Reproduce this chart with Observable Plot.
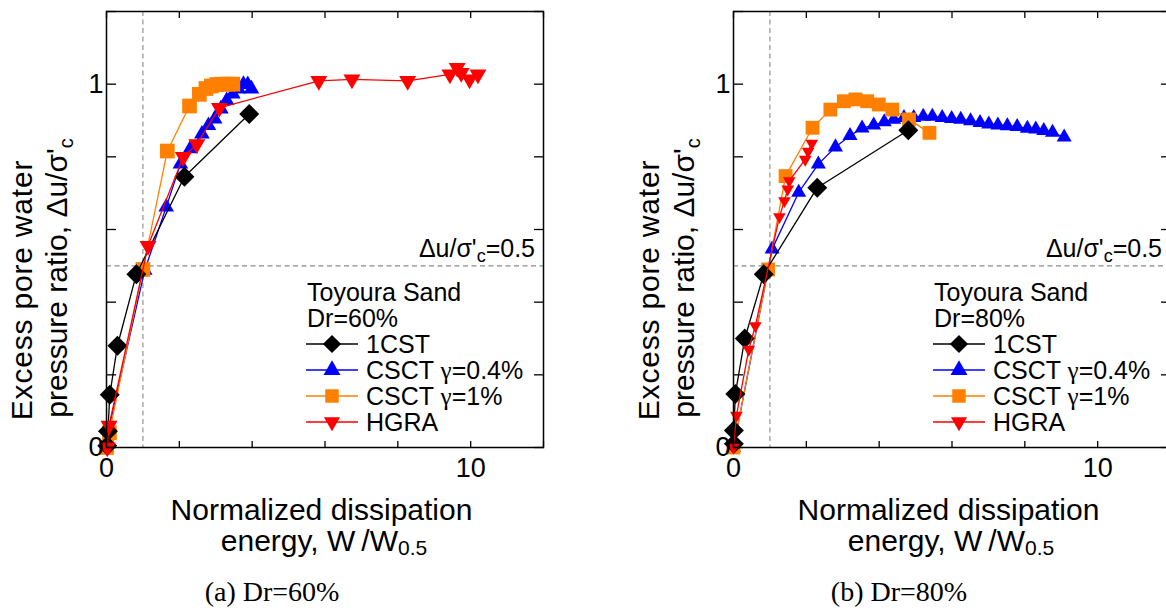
<!DOCTYPE html>
<html><head><meta charset="utf-8">
<script src="https://cdn.jsdelivr.net/npm/d3@7"></script>
<script src="https://cdn.jsdelivr.net/npm/@observablehq/plot@0.6"></script>
<style>
body{margin:0;background:#fff;}
#root{position:relative;width:1166px;height:610px;overflow:hidden;background:#fff;}
.panel{position:absolute;top:0;width:560px;height:490px;}
.panel svg{max-width:none !important;}
</style></head><body><div id="root"></div>
<script>
// ---------- data ----------
const xDomain = [0, 12];
const yDomain = [0, 1.2];
const xTicks = [0, 2, 4, 6, 8, 10, 12];
const xTickLabels = [0, 10];
const yTicks = [0, 0.2, 0.4, 0.6, 0.8, 1, 1.2];
const yTickLabels = [0, 1];
const refY = [0.5];
const refX = [1];
const seriesNames = ["1CST", "CSCT γ=0.4%", "CSCT γ=1%", "HGRA"];
const panelTitles = ["Toyoura Sand", "Toyoura Sand"];
const panelDr = ["Dr=60%", "Dr=80%"];
const captions = ["(a) Dr=60%", "(b) Dr=80%"];

// Dr = 60 %
const cst60X = [0.02, 0.04, 0.09, 0.30, 0.82, 2.14, 3.92];
const cst60Y = [0.005, 0.045, 0.145, 0.28, 0.477, 0.745, 0.918];
const low60X = [0, 0.06, 1.05, 1.64, 2.03, 2.30, 2.62, 2.80, 2.97, 3.14, 3.30, 3.47, 3.62, 3.76, 3.88, 3.98];
const low60Y = [0, 0.05, 0.488, 0.662, 0.78, 0.822, 0.863, 0.886, 0.904, 0.932, 0.955, 0.973, 0.987, 1.0, 0.999, 0.987];
const high60X = [0, 0.08, 1.0, 1.67, 2.28, 2.55, 2.73, 2.88, 3.03, 3.18, 3.33, 3.47];
const high60Y = [0, 0.04, 0.49, 0.816, 0.94, 0.972, 0.988, 0.995, 0.999, 1.0, 1.0, 1.0];
const hgra60X = [0.02, 0.07, 1.14, 2.11, 2.48, 3.10, 5.83, 6.74, 8.27, 9.43, 9.63, 9.74, 9.97, 10.2];
const hgra60Y = [0, 0.06, 0.555, 0.80, 0.835, 0.935, 1.009, 1.013, 1.009, 1.027, 1.045, 1.031, 1.013, 1.027];

// Dr = 80 %
const cst80X = [0.01, 0.01, 0.05, 0.31, 0.83, 2.30, 4.80];
const cst80Y = [0.01, 0.047, 0.147, 0.30, 0.477, 0.715, 0.873];
const low80X = [0, 1.06, 1.79, 2.33, 2.80, 3.20, 3.53, 3.85, 4.14, 4.40, 4.68, 4.95, 5.21, 5.46, 5.73, 5.99, 6.24, 6.51, 6.77, 7.01, 7.26, 7.52, 7.79, 8.07, 8.30, 8.52, 8.76, 9.08];
const low80Y = [0, 0.546, 0.702, 0.78, 0.827, 0.858, 0.879, 0.887, 0.896, 0.903, 0.908, 0.908, 0.911, 0.911, 0.908, 0.905, 0.903, 0.899, 0.894, 0.890, 0.887, 0.885, 0.883, 0.878, 0.876, 0.872, 0.867, 0.854];
const high80X = [0, 0.95, 1.43, 2.17, 2.66, 3.03, 3.35, 3.67, 3.99, 4.36, 4.82, 5.38];
const high80Y = [0, 0.49, 0.747, 0.88, 0.93, 0.953, 0.958, 0.953, 0.944, 0.93, 0.903, 0.866];
const hgra80X = [0, 0.08, 0.42, 0.60, 1.26, 1.40, 1.49, 1.53, 1.97, 2.05, 2.15];
const hgra80Y = [0, 0.088, 0.27, 0.335, 0.635, 0.679, 0.711, 0.734, 0.793, 0.815, 0.837];

// ---------- styles ----------
const SANS = "'Liberation Sans', Arial, Helvetica, sans-serif";
const SERIF = "'Liberation Serif', 'Times New Roman', serif";
const colors = ["#000000", "#0000ff", "#ff8000", "#ff0000"];
const symbols = ["diamond2", "triangle", "square", "triangle"];
const rotations = [0, 0, 0, 180];
const drawOrder = [1, 2, 0, 3];

function rows(xs, ys) { return xs.map((x, i) => ({x, y: ys[i]})); }

const panels = [
  {left: 0, series: [rows(cst60X, cst60Y), rows(low60X, low60Y), rows(high60X, high60Y), rows(hgra60X, hgra60Y)],
   r: [9, 5.8, 8.3, 6.3], title: panelTitles[0], dr: panelDr[0], caption: captions[0]},
  {left: 627, series: [rows(cst80X, cst80Y), rows(low80X, low80Y), rows(high80X, high80Y), rows(hgra80X, hgra80Y)],
   r: [9, 5.6, 7.8, 4.7], title: panelTitles[1], dr: panelDr[1], caption: captions[1]}
];

const root = document.getElementById("root");

function symPath(name, r) {
  const t = {diamond2: d3.symbolDiamond2, triangle: d3.symbolTriangle, square: d3.symbolSquare}[name];
  return d3.symbol(t, Math.PI * r * r)();
}

for (const p of panels) {
  const marks = [
    Plot.ruleY(refY, {stroke: "#8a8a8a", strokeWidth: 1.1, strokeDasharray: "5,3.5"}),
    Plot.ruleX(refX, {stroke: "#8a8a8a", strokeWidth: 1.1, strokeDasharray: "5,3.5"})
  ];
  for (const i of drawOrder) {
    marks.push(Plot.line(p.series[i], {x: "x", y: "y", stroke: colors[i], strokeWidth: 1.3}));
    marks.push(Plot.dot(p.series[i], {x: "x", y: "y", symbol: symbols[i], fill: colors[i], stroke: "none", r: p.r[i], rotate: rotations[i]}));
  }
  marks.push(
    Plot.axisX({ticks: xTicks, anchor: "bottom", tickSize: -6, tickFormat: () => "", label: null, strokeWidth: 1.3}),
    Plot.axisX({ticks: xTicks, anchor: "top", tickSize: -6, tickFormat: () => "", label: null, strokeWidth: 1.3}),
    Plot.axisY({ticks: yTicks, anchor: "left", tickSize: -10, tickFormat: () => "", label: null, strokeWidth: 1.3}),
    Plot.axisY({ticks: yTicks, anchor: "right", tickSize: -10, tickFormat: () => "", label: null, strokeWidth: 1.3}),
    Plot.axisX({ticks: xTickLabels, anchor: "bottom", tickSize: 0, tickPadding: 10, label: null, fontSize: 27, tickFormat: (d) => `${d}`}),
    Plot.axisY({ticks: yTickLabels, anchor: "left", tickSize: 0, tickPadding: 3, label: null, fontSize: 27, tickFormat: (d) => `${d}`}),
    Plot.frame({stroke: "black", strokeWidth: 1.5})
  );
  const svg = Plot.plot({
    width: 560, height: 490,
    marginLeft: 106, marginRight: 17, marginTop: 11, marginBottom: 43,
    x: {domain: xDomain}, y: {domain: yDomain},
    style: {fontFamily: SANS, fontSize: "27px", color: "black", background: "transparent", overflow: "visible", maxWidth: "none"},
    marks
  });
  const div = document.createElement("div");
  div.className = "panel";
  div.style.left = p.left + "px";
  div.appendChild(svg);
  root.appendChild(div);

  const xs = svg.scale("x"), ys = svg.scale("y");
  const fx0 = xs.range[0], fx1 = xs.range[1];
  const s = d3.select(svg);

  // threshold label
  const lbl = s.append("text").attr("x", fx1 - 8).attr("y", ys.apply(refY[0]) - 8)
    .attr("text-anchor", "end").attr("font-size", 25).attr("font-family", SANS).attr("fill", "black");
  lbl.append("tspan").text("Δu/σ'");
  lbl.append("tspan").attr("font-size", 18).attr("dy", 5).text("c");
  lbl.append("tspan").attr("dy", -5).text("=0.5");

  // legend
  const lg = s.append("g").attr("font-family", SANS).attr("font-size", 25).attr("fill", "black").attr("text-anchor", "start");
  const lx = fx0 + 200;
  lg.append("text").attr("x", lx + 1).attr("y", 301).text(p.title);
  lg.append("text").attr("x", lx + 1).attr("y", 327).text(p.dr);
  const rowY = [344, 370, 396, 422];
  const legR = [8.2, 6.3, 7.6, 6.0];
  seriesNames.forEach((name, i) => {
    const cy = rowY[i];
    lg.append("line").attr("x1", lx).attr("x2", lx + 52).attr("y1", cy).attr("y2", cy)
      .attr("stroke", colors[i]).attr("stroke-width", 1.3);
    lg.append("path").attr("d", symPath(symbols[i], legR[i]))
      .attr("transform", `translate(${lx + 26},${cy}) rotate(${rotations[i]})`).attr("fill", colors[i]);
    const t = lg.append("text").attr("x", lx + 60).attr("y", cy + 9);
    const m = name.match(/^(.*?)(γ)(.*)$/);
    if (m) {
      t.append("tspan").text(m[1]);
      t.append("tspan").attr("font-family", SERIF).text(m[2]);
      t.append("tspan").text(m[3]);
    } else t.text(name);
  });
}

// axis titles and captions
const overlay = d3.select(root).append("svg").attr("width", 1166).attr("height", 610)
  .style("position", "absolute").style("left", 0).style("top", 0).style("pointer-events", "none");

panels.forEach((p) => {
  const ox = p.left;
  const g = overlay.append("g").attr("font-family", SANS).attr("fill", "black");
  g.append("text").attr("transform", `translate(${ox + 32},290) rotate(-90)`)
    .attr("text-anchor", "middle").attr("font-size", 30).attr("letter-spacing", 0.8).text("Excess pore water");
  const y2 = g.append("text").attr("transform", `translate(${ox + 67},278) rotate(-90)`)
    .attr("text-anchor", "middle").attr("font-size", 30);
  y2.append("tspan").text("pressure ratio, Δu/σ'");
  y2.append("tspan").attr("font-size", 20).attr("dy", 6).text("c");

  g.append("text").attr("x", ox + 321.5).attr("y", 520).attr("text-anchor", "middle")
    .attr("font-size", 30).text("Normalized dissipation");
  const x2 = g.append("text").attr("x", ox + 324).attr("y", 551).attr("text-anchor", "middle").attr("font-size", 30);
  x2.append("tspan").text("energy, W\u2009/W");
  x2.append("tspan").attr("font-size", 21).attr("dy", 4).text("0.5");

  g.append("text").attr("x", ox + 272).attr("y", 601).attr("text-anchor", "middle")
    .attr("font-family", SERIF).attr("font-size", 28).text(p.caption);
});
</script></body></html>
